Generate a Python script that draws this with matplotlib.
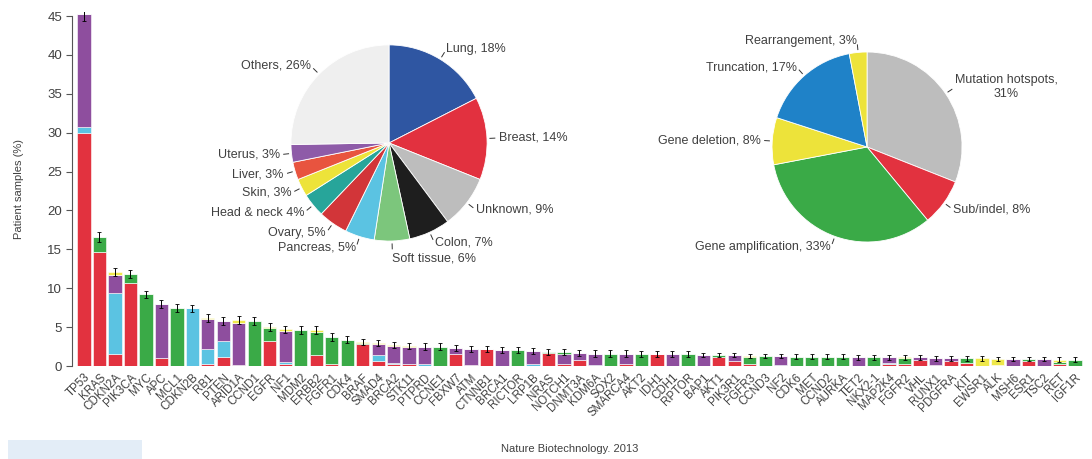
import numpy as np
import matplotlib
matplotlib.use('Agg')
import matplotlib.pyplot as plt
from matplotlib.patches import Rectangle

plt.rcParams['font.family'] = ['Liberation Sans', 'DejaVu Sans']

# gene list and stacked segments (red, light blue, purple, green, yellow)
genes = ['TP53', 'KRAS', 'CDKN2A', 'PIK3CA', 'MYC', 'APC', 'MCL1', 'CDKN2B', 'RB1', 'PTEN',
         'ARID1A', 'CCND1', 'EGFR', 'NF1', 'MDM2', 'ERBB2', 'FGFR1', 'CDK4', 'BRAF', 'SMAD4',
         'BRCA2', 'STK11', 'PTPRD', 'CCNE1', 'FBXW7', 'ATM', 'CTNNB1', 'BRCA1', 'RICTOR', 'LRP1B',
         'NRAS', 'NOTCH1', 'DNMT3A', 'KDM6A', 'SOX2', 'SMARCA4', 'AKT2', 'IDH1', 'CDH1', 'RPTOR',
         'BAP1', 'AKT1', 'PIK3R1', 'FGFR3', 'CCND3', 'NF2', 'CDK6', 'MET', 'CCND2', 'AURKA',
         'TET2', 'NKX2-1', 'MAP2K4', 'FGFR2', 'VHL', 'RUNX1', 'PDGFRA', 'KIT', 'EWSR1', 'ALK',
         'MSH6', 'ESR1', 'TSC2', 'RET', 'IGF1R']

seg_red = [30.0, 14.7, 1.5, 10.7, 0, 1.0, 0, 0, 0.2, 1.1,
           0.1, 0, 3.2, 0.2, 0, 1.4, 0.2, 0, 2.8, 0.6,
           0.2, 0.2, 0, 0, 1.5, 0.1, 2.2, 0, 0, 0,
           1.7, 0.3, 0.8, 0, 0, 0.3, 0, 1.5, 0, 0,
           0, 1.2, 0.6, 0.3, 0, 0, 0, 0, 0, 0,
           0, 0, 0.2, 0.2, 0.8, 0.1, 0.6, 0.4, 0, 0.1,
           0, 0.6, 0, 0.3, 0]
seg_lblue = [0.7, 0, 7.9, 0, 0, 0, 0, 7.4, 2.0, 2.1,
             0, 0, 0, 0.3, 0, 0, 0, 0, 0, 0.8,
             0.2, 0, 0.2, 0, 0.1, 0, 0, 0, 0, 0.2,
             0, 0, 0, 0.1, 0, 0, 0, 0, 0, 0,
             0, 0, 0, 0, 0, 0.1, 0, 0, 0, 0,
             0, 0, 0.2, 0, 0, 0, 0.1, 0, 0, 0,
             0, 0, 0, 0, 0]
seg_purple = [14.6, 0, 2.3, 0, 0, 7.0, 0, 0, 3.8, 2.6,
              5.4, 0, 0, 4.0, 0, 0, 0, 0, 0, 1.4,
              2.2, 2.3, 2.3, 0, 0.7, 2.1, 0, 2.1, 0, 1.7,
              0, 1.3, 0.9, 1.5, 0, 1.3, 0, 0, 1.5, 0,
              1.4, 0, 0.8, 0, 0, 1.2, 0, 0, 0, 0,
              1.1, 0, 0.7, 0, 0.3, 0.9, 0.3, 0, 0, 0,
              0.9, 0, 0.9, 0, 0]
seg_green = [0, 1.9, 0, 1.1, 9.2, 0, 7.5, 0, 0, 0,
             0, 5.8, 1.7, 0, 4.6, 3.0, 3.5, 3.4, 0.1, 0,
             0, 0, 0, 2.5, 0, 0, 0, 0, 2.1, 0,
             0.1, 0.2, 0, 0, 1.6, 0, 1.5, 0, 0, 1.5,
             0, 0.2, 0, 0.8, 1.3, 0, 1.2, 1.2, 1.2, 1.2,
             0, 1.1, 0, 0.8, 0, 0, 0, 0.6, 0, 0,
             0, 0.3, 0, 0.2, 0.8]
seg_yellow = [0, 0, 0.4, 0, 0, 0, 0, 0, 0.2, 0,
              0.4, 0, 0.1, 0.2, 0, 0.2, 0, 0, 0.2, 0.2,
              0.1, 0.1, 0, 0, 0, 0, 0, 0, 0, 0,
              0, 0, 0, 0, 0, 0, 0, 0, 0, 0,
              0, 0, 0, 0.2, 0, 0, 0, 0, 0, 0,
              0, 0, 0, 0.1, 0, 0, 0, 0, 1.0, 0.8,
              0, 0, 0, 0.3, 0]
err = [1.0, 0.6, 0.5, 0.5, 0.5, 0.5, 0.5, 0.5, 0.5, 0.5,
       0.5, 0.5, 0.5, 0.5, 0.5, 0.5, 0.5, 0.4, 0.4, 0.4,
       0.4, 0.4, 0.4, 0.4, 0.4, 0.4, 0.4, 0.4, 0.4, 0.4,
       0.4, 0.4, 0.4, 0.4, 0.4, 0.4, 0.4, 0.4, 0.4, 0.4,
       0.3, 0.3, 0.3, 0.3, 0.3, 0.3, 0.3, 0.3, 0.3, 0.3,
       0.3, 0.3, 0.3, 0.3, 0.3, 0.3, 0.3, 0.3, 0.3, 0.3,
       0.3, 0.3, 0.3, 0.3, 0.3]

# pie 1: cancer types
tissue_labels = ['Lung, 18%', 'Breast, 14%', 'Unknown, 9%', 'Colon, 7%', 'Soft tissue, 6%',
                 'Pancreas, 5%', 'Ovary, 5%', 'Head & neck 4%', 'Skin, 3%', 'Liver, 3%',
                 'Uterus, 3%', 'Others, 26%']
tissue_vals = [18, 14, 9, 7, 6, 5, 5, 4, 3, 3, 3, 26]
tissue_cols = ['#2F56A2', '#E2313F', '#BDBDBD', '#1E1E1E', '#7CC67C', '#5BC3E2',
               '#D23539', '#27A59A', '#EDE33A', '#E8543F', '#8E5BA8', '#EFEFEF']

# pie 2: alteration types
alt_labels = ['Mutation hotspots,\n31%', 'Sub/indel, 8%', 'Gene amplification, 33%',
              'Gene deletion, 8%', 'Truncation, 17%', 'Rearrangement, 3%']
alt_vals = [31, 8, 33, 8, 17, 3]
alt_cols = ['#BDBDBD', '#E2323F', '#3AAA47', '#EDE33A', '#1F82C8', '#EDE33A']

seg_cols = ['#E2323F', '#5BC3E2', '#8E4E9E', '#3AAA47', '#EFE84A']
txtcol = '#404040'

fig = plt.figure(figsize=(10.92, 4.59), dpi=100)

## bar chart
ax = fig.add_axes([0.0659, 0.2026, 0.9304, 0.771])
x = np.arange(len(genes))
bottom = np.zeros(len(genes))
for seg, col in zip([seg_red, seg_lblue, seg_purple, seg_green, seg_yellow], seg_cols):
    seg = np.array(seg)
    ax.bar(x, seg, 0.86, bottom=bottom, color=col, edgecolor='white', linewidth=0.4)
    bottom = bottom + seg
ax.errorbar(x, bottom, yerr=err, fmt='none', ecolor='k', elinewidth=0.7, capsize=1.2, capthick=0.6)

ax.set_xlim(-0.775, 64.84)
ax.set_ylim(0, 45.5)
ax.set_yticks(np.arange(0, 46, 5))
ax.spines['left'].set_bounds(0, 45)
for s in ['top', 'right', 'bottom']:
    ax.spines[s].set_visible(False)
ax.spines['left'].set_color('#555555')
ax.spines['left'].set_linewidth(0.8)
ax.tick_params(axis='y', direction='out', length=4, width=0.8, color='#555555',
               labelsize=9.5, labelcolor=txtcol, pad=3)
ax.set_xticks(x)
ax.set_xticklabels(genes, rotation=45, ha='right', va='top', rotation_mode='anchor',
                   fontsize=8.3, color=txtcol)
ax.tick_params(axis='x', length=0, pad=4)
ax.set_ylabel('Patient samples (%)', fontsize=8, color=txtcol, labelpad=17)
ax.patch.set_alpha(0)


def draw_pie(rect, vals, cols, labels, fs):
    pax = fig.add_axes(rect)
    wedges, _ = pax.pie(vals, colors=cols, startangle=90, counterclock=False,
                        wedgeprops=dict(edgecolor='white', linewidth=0.6))
    for w, lab in zip(wedges, labels):
        ang = np.deg2rad((w.theta1 + w.theta2) / 2)
        c, s = np.cos(ang), np.sin(ang)
        pax.plot([1.03 * c, 1.08 * c], [1.03 * s, 1.08 * s], color='#333333', lw=0.7)
        pax.text(1.12 * c, 1.12 * s, lab, ha='left' if c > 0 else 'right',
                 va='top' if s < -0.98 else 'center',
                 fontsize=fs, color=txtcol, multialignment='center')
    pax.set_xlim(-1.3, 1.3)
    pax.set_ylim(-1.3, 1.3)
    pax.set_aspect('equal')
    pax.axis('off')
    return pax


draw_pie([0.2395, 0.4107, 0.2335, 0.5556], tissue_vals, tissue_cols, tissue_labels, 9)
draw_pie([0.6809, 0.4107, 0.2262, 0.5381], alt_vals, alt_cols, alt_labels, 9)

fig.patches.append(Rectangle((8 / 1092, 0), 134 / 1092, 19 / 459, transform=fig.transFigure,
                             facecolor='#E3EDF7', edgecolor='none'))
fig.text(570 / 1092, 1 - 449 / 459, 'Nature Biotechnology. 2013', ha='center', va='center',
         fontsize=8, color=txtcol)

plt.savefig('out.png', dpi=100)
